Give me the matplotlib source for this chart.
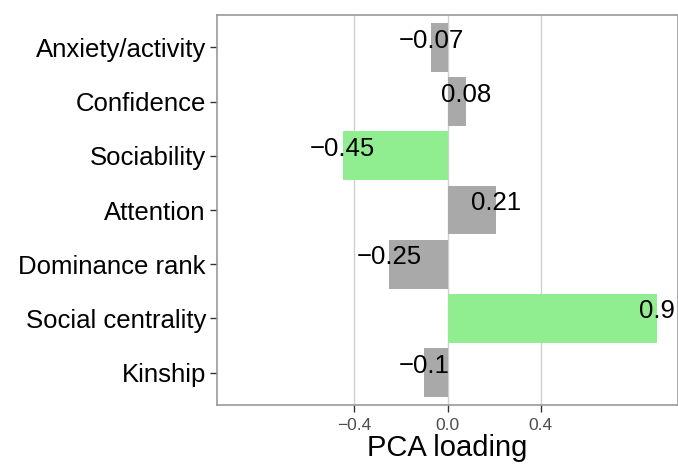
import matplotlib
matplotlib.use('Agg')
import matplotlib.pyplot as plt
import numpy as np

plt.rcParams['font.family'] = ['Liberation Sans', 'DejaVu Sans']

categorias = ['Anxiety/activity', 'Confidence', 'Sociability', 'Attention',
              'Dominance rank', 'Social centrality', 'Kinship']
cargas = [-0.07, 0.08, -0.45, 0.21, -0.25, 0.9, -0.1]
etiquetas = ['\u22120.07', '0.08', '\u22120.45', '0.21', '\u22120.25', '0.9', '\u22120.1']
destacados = [False, False, True, False, False, True, False]
xticks = [-0.4, 0.0, 0.4]
xticklabels = ['\u22120.4', '0.0', '0.4']

fig = plt.figure(figsize=(6.78, 4.65), dpi=100)
ax = fig.add_axes([217 / 678, 1 - 405 / 465, 461 / 678, 390 / 465])

pos = np.arange(len(categorias))[::-1]
colores = ['#90EE90' if d else '#A9A9A9' for d in destacados]

# lineas de grilla solo en los ticks mayores
for x in xticks:
    ax.axvline(x, color='#d0d0d0', lw=1, zorder=0)

ax.barh(pos, cargas, height=0.9, color=colores, zorder=2)

# etiqueta con el valor en la punta de cada barra
for y, v, t in zip(pos, cargas, etiquetas):
    ax.text(v, y, t, ha='center', va='baseline', fontsize=18.5, zorder=3)

ax.set_xlim(-0.99, 0.99)
ax.set_ylim(-0.6, len(categorias) - 0.4)
ax.set_yticks(pos)
ax.set_yticklabels(categorias, fontsize=18.5)
ax.set_xticks(xticks)
ax.set_xticklabels(xticklabels, fontsize=12.5, color='#4d4d4d')
ax.set_xlabel('PCA loading', fontsize=21, labelpad=1)

for s in ax.spines.values():
    s.set_color('#999999')
    s.set_linewidth(1.2)
ax.tick_params(axis='both', length=5, width=1, color='#333333', pad=3)
ax.tick_params(axis='x', pad=4)

fig.savefig('out.png', dpi=100)
